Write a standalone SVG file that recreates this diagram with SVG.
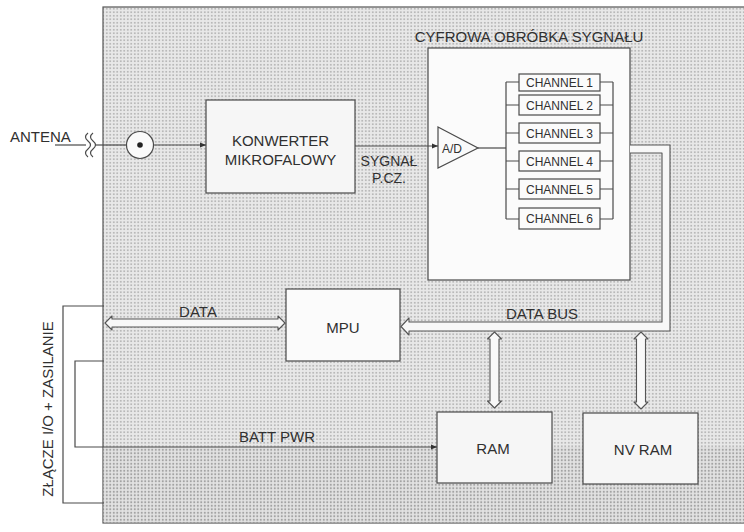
<svg xmlns="http://www.w3.org/2000/svg" width="744" height="532" viewBox="0 0 744 532">
<defs>
<style>
text{font-family:"Liberation Sans",Arial,sans-serif;fill:#303030}
.t{font-size:15px}
.s{font-size:14px}
.c{font-size:12px}
.box{fill:#f6f6f6;stroke:#4a4a4a;stroke-width:1.2}
.wbox{fill:#fbfbfb;stroke:#4a4a4a;stroke-width:1.2}
.ln{fill:none;stroke:#4a4a4a;stroke-width:1.2}
.hol{fill:#f8f8f8;stroke:#555;stroke-width:1.1;stroke-linejoin:round}
</style>
<pattern id="dots" width="3.5" height="3.5" patternUnits="userSpaceOnUse">
<rect width="3.5" height="3.5" fill="#e8e8e8"/>
<circle cx="1.75" cy="1.75" r="0.95" fill="#aeaeae"/>
</pattern>
<pattern id="dots2" width="3.5" height="3.5" patternUnits="userSpaceOnUse">
<rect width="3.5" height="3.5" fill="#e2e2e2"/>
<circle cx="1.75" cy="1.75" r="1.05" fill="#a2a2a2"/>
</pattern>
<marker id="ar" viewBox="0 0 10 10" refX="10" refY="5" markerWidth="6" markerHeight="6" orient="auto" markerUnits="userSpaceOnUse">
<path d="M0,1 L10,5 L0,9 Z" fill="#333"/>
</marker>
</defs>
<rect width="744" height="532" fill="#ffffff"/>
<g id="frame">
<rect x="103" y="7" width="700" height="516" fill="url(#dots)" stroke="#555" stroke-width="1.2"/>
<rect x="103.6" y="447" width="700" height="75.4" fill="url(#dots2)"/>
</g>
<g id="antenna">
<text class="t" x="10" y="142">ANTENA</text>
<line class="ln" x1="55" y1="145" x2="86" y2="145"/>
<path class="ln" d="M88,133 q-5,4 0,8 q5,4 0,8 q-5,4 0,8 M93,133 q-5,4 0,8 q5,4 0,8 q-5,4 0,8"/>
<line class="ln" x1="96" y1="145" x2="127" y2="145"/>
<circle cx="140" cy="145" r="13.5" fill="#fafafa" stroke="#4a4a4a" stroke-width="1.2"/>
<circle cx="140" cy="145" r="2.8" fill="#222"/>
</g>
<g id="konwerter">
<rect class="box" x="206" y="100" width="149" height="93"/>
<text class="t" x="280.5" y="146" text-anchor="middle">KONWERTER</text>
<text class="t" x="280.5" y="165" text-anchor="middle">MIKROFALOWY</text>
</g>
<g id="cyfrowa">
<text class="t" x="529" y="42" text-anchor="middle">CYFROWA OBRÓBKA SYGNAŁU</text>
<rect class="wbox" x="428" y="48" width="202" height="232"/>
</g>
<g id="ad">
<path d="M438,127 L478,148 L438,168 Z" fill="#fafafa" stroke="#4a4a4a" stroke-width="1.2"/>
<text class="c" x="452" y="153" text-anchor="middle">A/D</text>
</g>
<g id="channels">
<rect class="wbox" x="519" y="74" width="81" height="17"/>
<text class="c" x="559.5" y="87" text-anchor="middle">CHANNEL 1</text>
<rect class="wbox" x="519" y="95" width="81" height="20"/>
<text class="c" x="559.5" y="109.5" text-anchor="middle">CHANNEL 2</text>
<rect class="wbox" x="519" y="123" width="81" height="20"/>
<text class="c" x="559.5" y="137.5" text-anchor="middle">CHANNEL 3</text>
<rect class="wbox" x="519" y="151" width="81" height="20"/>
<text class="c" x="559.5" y="165.5" text-anchor="middle">CHANNEL 4</text>
<rect class="wbox" x="519" y="179" width="81" height="20"/>
<text class="c" x="559.5" y="193.5" text-anchor="middle">CHANNEL 5</text>
<rect class="wbox" x="519" y="208" width="81" height="21"/>
<text class="c" x="559.5" y="223" text-anchor="middle">CHANNEL 6</text>
</g>
<g id="mpu">
<rect class="wbox" x="286" y="289" width="114" height="72"/>
<text class="t" x="343" y="333" text-anchor="middle">MPU</text>
</g>
<g id="ram">
<rect class="box" x="437" y="412" width="115" height="71"/>
<text class="t" x="493" y="454" text-anchor="middle">RAM</text>
</g>
<g id="nvram">
<rect class="box" x="583" y="413" width="115" height="71"/>
<text class="t" x="643" y="455" text-anchor="middle">NV RAM</text>
</g>
<g id="connector">
<path class="ln" d="M104,306 H63 V503 H104"/>
<path class="ln" d="M104,361 H75 V447 H104"/>
<text class="t" x="0" y="0" text-anchor="middle" transform="translate(53,409) rotate(-90)">ZŁĄCZE I/O + ZASILANIE</text>
</g>
<g id="connectors">
<line class="ln" x1="153.5" y1="145" x2="206" y2="145" marker-end="url(#ar)"/>
<line class="ln" x1="355" y1="146" x2="438" y2="146" marker-end="url(#ar)"/>
<line class="ln" x1="478" y1="148" x2="506" y2="148"/>
<path class="ln" d="M506,82 V219 M506,82 H519 M506,105 H519 M506,133 H519 M506,161 H519 M506,189 H519 M506,219 H519"/>
<path class="ln" d="M613,82 V219 M600,82 H613 M600,105 H613 M600,133 H613 M600,161 H613 M600,189 H613 M600,219 H613"/>
<path class="hol" d="M630,145 H670 V331 H409 V335 L401,326.5 L409,318 V322 H662 V153 H630"/>
<path class="hol" d="M105,323 L112,316 V319 H278 V316 L285,323 L278,330 V327 H112 V330 Z"/>
<path class="hol" d="M494.5,332 L501.5,339 H499 V401 H501.5 L494.5,408 L487.5,401 H490 V339 H487.5 Z"/>
<path class="hol" d="M641,332 L648,339 H645.5 V402 H648 L641,409 L634,402 H636.5 V339 H634 Z"/>
<line class="ln" x1="104" y1="447" x2="437" y2="447" marker-end="url(#ar)"/>
<text class="s" x="389" y="166" text-anchor="middle">SYGNAŁ</text>
<text class="s" x="389" y="183" text-anchor="middle">P.CZ.</text>
<text class="t" x="198" y="317" text-anchor="middle">DATA</text>
<text class="t" x="542" y="319" text-anchor="middle">DATA BUS</text>
<text class="t" x="277" y="442" text-anchor="middle">BATT PWR</text>
</g>
</svg>
